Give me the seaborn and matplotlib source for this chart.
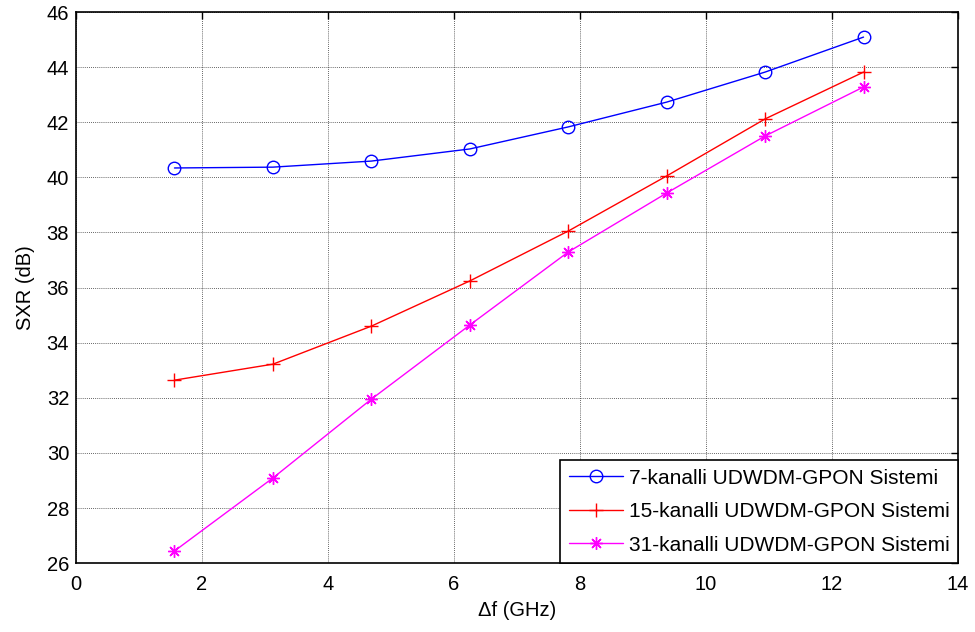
import matplotlib
matplotlib.use("Agg")
import matplotlib.pyplot as plt
from matplotlib import font_manager
import seaborn as sns
import pandas as pd

delta_f = [1.5625, 3.125, 4.6875, 6.25, 7.8125, 9.375, 10.9375, 12.5]
sxr_7 = [40.34, 40.37, 40.59, 41.03, 41.83, 42.73, 43.82, 45.09]
sxr_15 = [32.64, 33.22, 34.60, 36.24, 38.05, 40.05, 42.12, 43.82]
sxr_31 = [26.44, 29.09, 31.95, 34.64, 37.29, 39.43, 41.50, 43.28]
labels = ["7-kanalli UDWDM-GPON Sistemi",
          "15-kanalli UDWDM-GPON Sistemi",
          "31-kanalli UDWDM-GPON Sistemi"]
x_ticks = [0, 2, 4, 6, 8, 10, 12, 14]
y_ticks = [26, 28, 30, 32, 34, 36, 38, 40, 42, 44, 46]

sns.set_theme(style="white")
try:
    font_manager.findfont('Liberation Sans Narrow', fallback_to_default=False)
    narrow = True
except Exception:
    narrow = False
if narrow:
    tick_family = ['Liberation Sans Narrow', 'DejaVu Sans']
    tick_size = 16.5
else:
    tick_family = ['Liberation Sans', 'DejaVu Sans']
    tick_size = 14.5
plt.rcParams['font.family'] = tick_family
plt.rcParams['text.color'] = 'black'
plt.rcParams['axes.labelcolor'] = 'black'
plt.rcParams['xtick.color'] = 'black'
plt.rcParams['ytick.color'] = 'black'

fig = plt.figure(figsize=(9.75, 6.32), dpi=100)
ax = fig.add_axes([0.078, 0.109, 0.9046, 0.872])

colors = ["#0000ff", "#ff0000", "#ff00ff"]
markers = ["o", "+", (8, 2, 0)]
msizes = [9, 10, 9]
for vals, lab, c, m, ms in zip([sxr_7, sxr_15, sxr_31], labels, colors, markers, msizes):
    df = pd.DataFrame({"x": delta_f, "y": vals})
    sns.lineplot(data=df, x="x", y="y", ax=ax, color=c, marker=m, markersize=ms,
                 markerfacecolor="none", markeredgecolor=c, markeredgewidth=1.0,
                 linewidth=1.0, label=lab)

ax.set_xlim(0, 14)
ax.set_ylim(26, 46)
ax.set_xticks(x_ticks)
ax.set_yticks(y_ticks)
ax.tick_params(direction="in", top=True, right=True, length=5, width=1, labelsize=tick_size,
               colors="black")
ax.tick_params(axis="x", pad=8.5)
ax.tick_params(axis="y", pad=5)
ax.grid(True, color="black", linestyle=(0, (1, 1.5)), linewidth=0.6, alpha=0.8)
for s in ax.spines.values():
    s.set_color("black")
    s.set_linewidth(1.2)
ax.set_xlabel("Δf (GHz)", fontsize=tick_size, labelpad=5, color="black",
              fontfamily=tick_family + ['DejaVu Sans'])
ax.set_ylabel("SXR (dB)", fontsize=tick_size, labelpad=8, color="black",
              fontfamily=tick_family + ['DejaVu Sans'])

leg = ax.legend(loc="lower right", borderaxespad=0, fancybox=False, framealpha=1,
                edgecolor="black", handlelength=2.6, handletextpad=0.3,
                labelspacing=0.7, borderpad=0.4,
                prop={'family': ['Liberation Sans', 'DejaVu Sans'], 'size': 15})
leg.get_frame().set_linewidth(1.2)
for t in leg.get_texts():
    t.set_color("black")

fig.savefig("out.png", dpi=100)
